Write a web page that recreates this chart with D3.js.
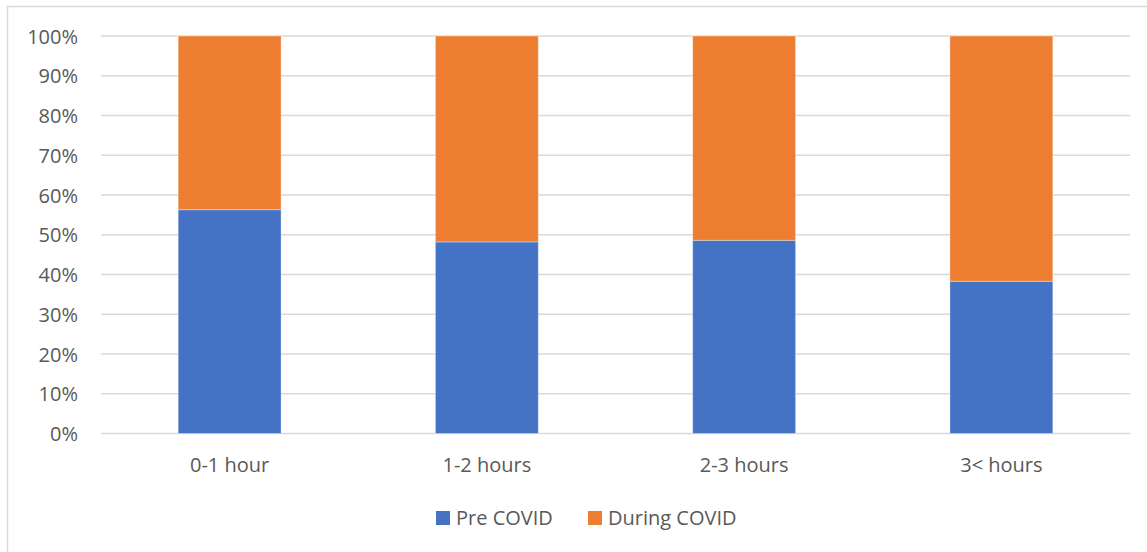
<!DOCTYPE html>
<html>
<head>
<meta charset="utf-8">
<script src="https://cdn.jsdelivr.net/npm/d3@7/dist/d3.min.js"></script>
<style>
	body { margin: 0; background: #fff; }
	svg text { font-family: "Open Sans", sans-serif; fill: #595959; }
</style>
</head>
<body>
<svg id="svg"></svg>
<script>
	"use strict";

	var categories = ["0-1 hour", "1-2 hours", "2-3 hours", "3< hours"];
	var seriesNames = ["Pre COVID", "During COVID"];
	var preCovid = [56.3, 48.2, 48.6, 38.3];
	var duringCovid = [43.7, 51.8, 51.4, 61.7];
	var yTicks = [0, 10, 20, 30, 40, 50, 60, 70, 80, 90, 100];
	var colors = ["#4472C4", "#ED7D31"];

	var
		width = 1147,
		height = 552,
		plotLeft = 101,
		plotRight = 1130,
		plotTop = 36,
		plotBottom = 433.5,

		svg = d3.select("#svg")
			.attr("width", width)
			.attr("height", height);

	// chart frame
	svg.append("rect")
		.attr("x", 7.5).attr("y", 6.5)
		.attr("width", width + 10).attr("height", height + 10)
		.style("fill", "none")
		.style("stroke", "#D9D9D9")
		.style("stroke-width", 1.5);

	var x = d3.scaleBand()
		.domain(categories)
		.range([plotLeft, plotRight])
		.paddingInner(0.6)
		.paddingOuter(0.3);

	var y = d3.scaleLinear()
		.domain([0, 100])
		.range([plotBottom, plotTop]);

	// gridlines
	svg.append("g")
		.selectAll("line")
		.data(yTicks)
		.enter()
		.append("line")
		.attr("x1", plotLeft).attr("x2", plotRight)
		.attr("y1", function(d){ return y(d); })
		.attr("y2", function(d){ return y(d); })
		.style("stroke", "#D9D9D9")
		.style("stroke-width", 1.5);

	// y axis labels
	var yAxis = d3.axisLeft(y)
		.tickValues(yTicks)
		.tickSize(0)
		.tickPadding(0)
		.tickFormat(function(d){ return d + "%"; });

	svg.append("g")
		.attr("transform", "translate(78,0)")
		.call(yAxis)
		.call(function(g){ g.select(".domain").remove(); })
		.attr("font-family", null)
		.attr("font-size", null)
		.selectAll("text")
		.attr("font-size", 20)
		.attr("fill", null)
		.attr("dy", "0.35em");

	// stacked data
	var rows = categories.map(function(c, i){
		return { cat: c, "Pre COVID": preCovid[i], "During COVID": duringCovid[i] };
	});
	var stack = d3.stack().keys(seriesNames)(rows);

	svg.append("g")
		.selectAll("g")
		.data(stack)
		.enter()
		.append("g")
		.style("fill", function(d, i){ return colors[i]; })
		.selectAll("rect")
		.data(function(d){ return d; })
		.enter()
		.append("rect")
		.attr("x", function(d){ return x(d.data.cat); })
		.attr("width", x.bandwidth())
		.attr("y", function(d){ return y(d[1]); })
		.attr("height", function(d){ return y(d[0]) - y(d[1]); })
		.style("stroke", "#fff")
		.style("stroke-opacity", 0.35)
		.style("stroke-width", 1);

	// x axis labels
	var xAxis = d3.axisBottom(x).tickSize(0).tickPadding(0);

	svg.append("g")
		.attr("transform", "translate(0,465)")
		.call(xAxis)
		.call(function(g){ g.select(".domain").remove(); })
		.attr("font-family", null)
		.attr("font-size", null)
		.selectAll("text")
		.attr("font-size", 20)
		.attr("fill", null)
		.attr("y", 0)
		.attr("dy", "0.35em");

	// legend
	var legendX = [436, 588];
	var legend = svg.append("g")
		.selectAll("g")
		.data(seriesNames)
		.enter()
		.append("g")
		.attr("transform", function(d, i){ return "translate(" + legendX[i] + ",511)"; });

	legend.append("rect")
		.attr("width", 14).attr("height", 14)
		.style("fill", function(d, i){ return colors[i]; });

	legend.append("text")
		.attr("x", 20).attr("y", 7)
		.attr("dy", "0.35em")
		.attr("font-size", 20)
		.text(function(d){ return d; });
</script>
</body>
</html>
